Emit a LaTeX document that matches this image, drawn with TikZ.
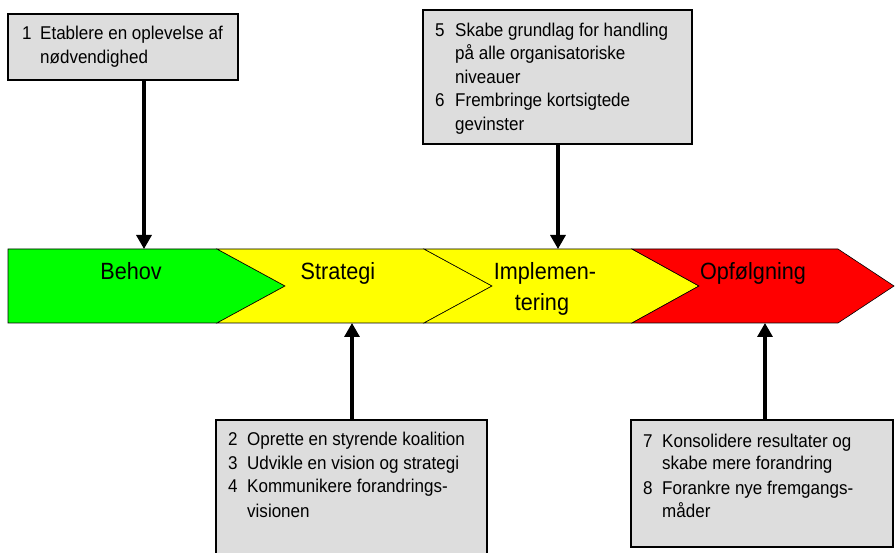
\documentclass[tikz,border=0pt]{standalone}
\usepackage{fontspec}
\setmainfont[FakeStretch=0.92]{Liberation Sans}
\usetikzlibrary{arrows.meta}
\definecolor{boxgray}{HTML}{DDDDDD}
\definecolor{phgreen}{HTML}{00FF00}
\definecolor{phyellow}{HTML}{FFFF00}
\definecolor{phred}{HTML}{FF0000}
\begin{document}
\begin{tikzpicture}[x=1pt,y=-1pt,
  box/.style={draw=black,line width=1.5pt,fill=boxgray},
  itemline/.style={anchor=base west,inner sep=0pt,font=\fontsize{18.5}{22}\selectfont},
  phase/.style={draw=black,line width=0.6pt},
  phaselabel/.style={anchor=base,inner sep=0pt,font=\fontsize{23.5}{28}\selectfont},
  arr/.style={line width=3.2pt,-{Triangle[length=14pt,width=15pt]}}]
\useasboundingbox (0,0) rectangle (895,553);

% phase band
\draw[phase,fill=phgreen] (8,249) -- (217,249) -- (285,286) -- (217,323) -- (8,323) -- cycle;
\draw[phase,fill=phyellow] (217,249) -- (424,249) -- (492,286) -- (424,323) -- (217,323) -- (285,286) -- cycle;
\draw[phase,fill=phyellow] (424,249) -- (632,249) -- (699,286) -- (632,323) -- (424,323) -- (492,286) -- cycle;
\draw[phase,fill=phred] (632,249) -- (838,249) -- (894,286) -- (838,323) -- (632,323) -- (699,286) -- cycle;

\node[phaselabel] (behov) at (131,280) {Behov};
\node[phaselabel] (strategi) at (338,280) {Strategi};
\node[phaselabel] (impl1) at (545,280) {Implemen-};
\node[phaselabel] (impl2) at (542,311) {tering};
\node[phaselabel] (opf) at (753,280) {Opfølgning};

\coordinate (t1) at (144,249);
\coordinate (t5) at (558,249);
\coordinate (b2) at (352,323);
\coordinate (b7) at (765,323);

% box 1
\draw[box] (8,14) rectangle (238,80);
\coordinate (box1) at (144,80);
\node[itemline] (n1) at (22,40) {1};
\node[itemline] (l1a) at (40,40) {Etablere en oplevelse af};
\node[itemline] (l1b) at (40,64) {nødvendighed};

% box 5-6
\draw[box] (423,10) rectangle (692,144);
\coordinate (box5) at (558,144);
\node[itemline] (n5) at (435,36.5) {5};
\node[itemline] (l5a) at (455,36.5) {Skabe grundlag for handling};
\node[itemline] (l5b) at (455,60) {på alle organisatoriske};
\node[itemline] (l5c) at (455,83.5) {niveauer};
\node[itemline] (n6) at (435,107) {6};
\node[itemline] (l6a) at (455,107) {Frembringe kortsigtede};
\node[itemline] (l6b) at (455,130.5) {gevinster};

% box 2-4
\draw[box] (216,420) rectangle (487,570);
\coordinate (box2) at (352,420);
\node[itemline] (n2) at (228,446) {2};
\node[itemline] (l2a) at (247,446) {Oprette en styrende koalition};
\node[itemline] (n3) at (228,470) {3};
\node[itemline] (l3a) at (247,470) {Udvikle en vision og strategi};
\node[itemline] (n4) at (228,493) {4};
\node[itemline] (l4a) at (247,493) {Kommunikere forandrings-};
\node[itemline] (l4b) at (247,517) {visionen};

% box 7-8
\draw[box] (631,420) rectangle (893,547);
\coordinate (box7) at (765,420);
\node[itemline] (n7) at (643,447) {7};
\node[itemline] (l7a) at (662,447) {Konsolidere resultater og};
\node[itemline] (l7b) at (662,470) {skabe mere forandring};
\node[itemline] (n8) at (643,494) {8};
\node[itemline] (l8a) at (662,494) {Forankre nye fremgangs-};
\node[itemline] (l8b) at (662,517) {måder};

% arrows
\draw[arr] (box1) -- (t1);
\draw[arr] (box5) -- (t5);
\draw[arr] (box2) -- (b2);
\draw[arr] (box7) -- (b7);
\end{tikzpicture}
\end{document}
